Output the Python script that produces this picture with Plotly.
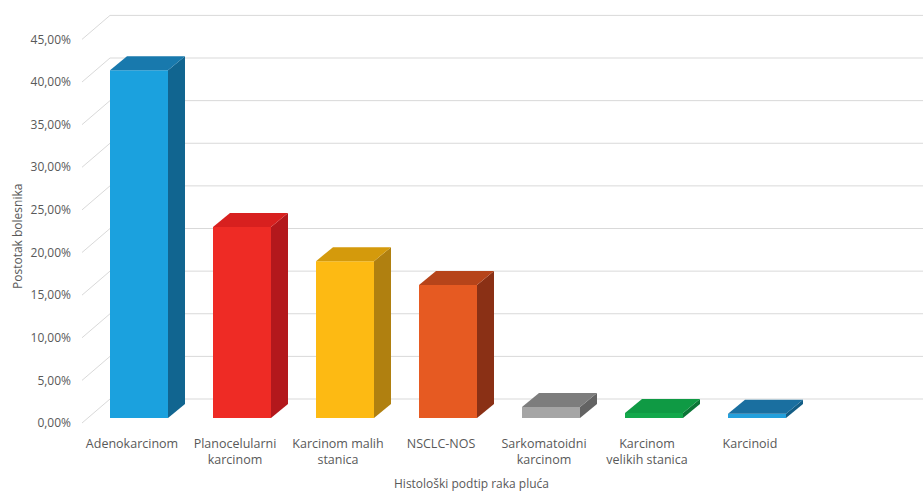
import numpy as np
import plotly.graph_objects as go

# ---- data ----
categories = ["Adenokarcinom", "Planocelularni<br>karcinom", "Karcinom malih<br>stanica",
              "NSCLC-NOS", "Sarkomatoidni<br>karcinom", "Karcinom<br>velikih stanica", "Karcinoid"]
values = [40.8, 22.4, 18.4, 15.6, 1.3, 0.6, 0.5]
y_tick_vals = [0, 5, 10, 15, 20, 25, 30, 35, 40, 45]
y_tick_text = ["0,00%", "5,00%", "10,00%", "15,00%", "20,00%", "25,00%",
               "30,00%", "35,00%", "40,00%", "45,00%"]
front_colors = ["#1ba1de", "#ee2b25", "#fdba13", "#e65a22", "#a5a5a5", "#13a84b", "#24a0dc"]
top_colors = ["#1879ad", "#d8201f", "#d49a0c", "#b6441a", "#7d7d7d", "#0f9a44", "#1a6fa0"]
side_colors = ["#116590", "#b3181c", "#b08010", "#8a3015", "#636363", "#0b7536", "#135d85"]

# ---- geometry (pixel -> data unit conversions) ----
W, H = 923, 493
L, R, T, B = 82, 0, 5, 63
px_per_cat = 103.0
px_per_pct = 8.525
first_center_px = 139.0
zero_px = 423.0
plot_w = W - L - R
plot_h = H - T - B

x_range = [(L - first_center_px) / px_per_cat, (W - R - first_center_px) / px_per_cat]
y_range = [(zero_px - (H - B)) / px_per_pct, (zero_px - T) / px_per_pct]

bar_w = 58 / px_per_cat
base0 = 5 / px_per_pct
dx = 17 / px_per_cat
dy = 14 / px_per_pct
wall_dxp = 28 / plot_w
wall_dy = 24 / px_per_pct

xs = np.arange(len(categories))

fig = go.Figure()

# front faces
fig.add_trace(go.Bar(x=xs, y=values, base=[base0] * len(values), width=bar_w,
                     marker=dict(color=front_colors, line=dict(width=0)),
                     showlegend=False, hoverinfo="skip"))

# side and top faces
for i, v in enumerate(values):
    xl = xs[i] - bar_w / 2
    xr = xs[i] + bar_w / 2
    top = base0 + v
    fig.add_trace(go.Scatter(
        x=[xr, xr + dx, xr + dx, xr, xr],
        y=[base0, base0 + dy, top + dy, top, base0],
        fill="toself", fillcolor=side_colors[i], mode="lines",
        line=dict(width=0, color=side_colors[i]), showlegend=False, hoverinfo="skip"))
    fig.add_trace(go.Scatter(
        x=[xl, xl + dx, xr + dx, xr, xl],
        y=[top, top + dy, top + dy, top, top],
        fill="toself", fillcolor=top_colors[i], mode="lines",
        line=dict(width=0, color=top_colors[i]), showlegend=False, hoverinfo="skip"))

# perspective gridlines
shapes = []
for v in y_tick_vals:
    shapes.append(dict(type="line", xref="paper", yref="y", x0=0, x1=wall_dxp,
                       y0=v, y1=v + wall_dy, line=dict(color="#d9d9d9", width=1), layer="below"))
    shapes.append(dict(type="line", xref="paper", yref="y", x0=wall_dxp, x1=1,
                       y0=v + wall_dy, y1=v + wall_dy, line=dict(color="#d9d9d9", width=1),
                       layer="below"))

font_family = "Open Sans, sans-serif"
txt_color = "#595959"

fig.update_layout(
    width=W, height=H,
    margin=dict(l=L, r=R, t=T, b=B),
    paper_bgcolor="white", plot_bgcolor="white",
    shapes=shapes,
    showlegend=False,
    font=dict(family=font_family, color=txt_color, size=12),
    xaxis=dict(range=x_range, tickvals=xs - 7 / px_per_cat, ticktext=categories,
               showgrid=False, zeroline=False, showline=False, ticks="",
               ticklabelstandoff=4,
               tickfont=dict(size=12.5, color=txt_color), fixedrange=True),
    yaxis=dict(range=y_range, tickvals=y_tick_vals, ticktext=y_tick_text,
               showgrid=False, zeroline=False, showline=False, ticks="",
               ticklabelstandoff=10,
               tickfont=dict(size=12, color=txt_color), fixedrange=True),
    annotations=[
        dict(text="Postotak bolesnika", xref="paper", yref="paper",
             x=(17 - L) / plot_w, y=((H - B) - 237) / plot_h, textangle=-90,
             showarrow=False, xanchor="center", yanchor="middle",
             font=dict(size=12, color=txt_color)),
        dict(text="Histološki podtip raka pluća", xref="paper", yref="paper",
             x=(471 - L) / plot_w, y=((H - B) - 484) / plot_h,
             showarrow=False, xanchor="center", yanchor="middle",
             font=dict(size=12, color=txt_color)),
    ],
)

fig.write_html("out.html")
